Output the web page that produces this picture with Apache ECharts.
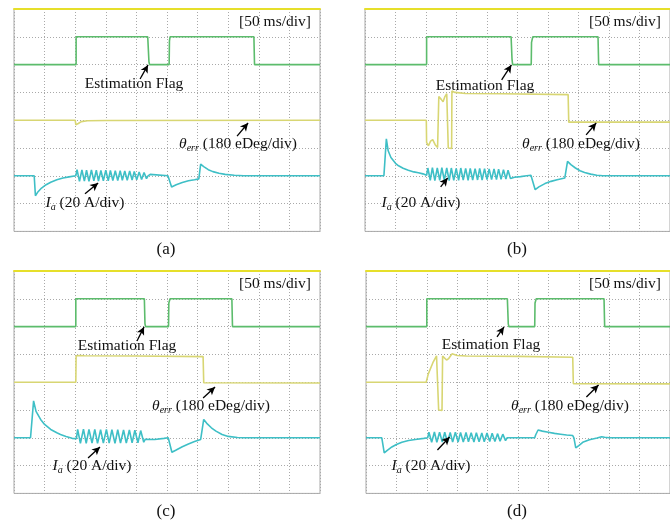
<!DOCTYPE html>
<html><head><meta charset="utf-8">
<script src="https://cdn.jsdelivr.net/npm/echarts@6/dist/echarts.min.js"></script>
<style>html,body{margin:0;padding:0;background:#fff}#c{width:670px;height:525px}</style>
</head><body><div id="c"></div>
<script>
// ---- data (x and y in scope divisions) ----
const panelNames = ['(a)', '(b)', '(c)', '(d)'];
const timeBaseLabel = '[50 ms/div]';
const flagLabel = 'Estimation Flag';

const flagA = [[0,6],[2.03,6],[2.03,7],[4.37,7],[4.41,6.1],[4.43,6],[5.07,6],[5.08,6.85],[5.1,7],[7.84,7],[7.86,6],[10,6]];
const thetaA = [[0,4],[2.0,4],[2.02,3.84],[2.06,3.82],[2.1,3.88],[2.2,3.95],[2.4,3.98],[3,3.99],[10,4.0]];
const iaA = [[0,2],[0.66,2],[0.70,1.28],[0.78,1.42],[0.9,1.56],[1.05,1.68],[1.2,1.77],[1.4,1.86],[1.6,1.92],[1.8,1.96],[2.02,2.0],
 [2.06,2.22],[2.14,1.8],[2.22,2.21],[2.30,1.81],[2.37,2.2],[2.45,1.8],[2.53,2.21],[2.61,1.82],[2.69,2.2],[2.76,1.81],
 [2.84,2.19],[2.92,1.82],[3.00,2.2],[3.08,1.82],[3.15,2.19],[3.23,1.83],[3.31,2.18],[3.39,1.83],[3.47,2.18],[3.54,1.84],
 [3.62,2.17],[3.70,1.84],[3.78,2.17],[3.86,1.85],[3.93,2.16],[4.01,1.86],[4.09,2.14],[4.17,1.87],[4.25,2.12],[4.33,1.9],
 [4.38,2.0],[4.45,2.05],[4.5,2.0],[5.03,2.0],[5.15,1.6],[5.3,1.68],[5.5,1.76],[5.7,1.82],[5.9,1.86],[6.04,1.89],
 [6.1,2.42],[6.2,2.33],[6.35,2.22],[6.5,2.15],[6.7,2.09],[6.9,2.05],[7.2,2.02],[7.5,2.0],[10,2.0]];

const flagB = [[0,6],[2.02,6],[2.02,7],[4.79,7],[4.82,6.2],[4.84,6],[5.45,6],[5.46,6.8],[5.5,7],[7.64,7],[7.66,6],[10,6]];
const thetaB = [[0,4],[2.01,4],[2.02,3.2],[2.08,3.08],[2.15,3.25],[2.22,3.3],[2.3,3.12],[2.38,3.02],[2.41,3.05],[2.42,4.85],
 [2.5,4.75],[2.56,4.66],[2.62,4.85],[2.68,4.95],[2.72,4.95],[2.73,3.0],[2.84,2.98],[2.85,5.05],[2.95,5.0],[3.3,4.96],
 [4.5,4.95],[6.66,4.92],[6.68,3.93],[10,3.93]];
const iaB = [[0,2],[0.62,2],[0.70,3.33],[0.76,2.9],[0.85,2.66],[1.0,2.45],[1.1,2.36],[1.25,2.27],[1.42,2.2],[1.6,2.14],[1.75,2.11],[1.9,2.07],[2.02,2.02],
 [2.06,2.28],[2.14,1.84],[2.21,2.29],[2.29,1.83],[2.37,2.28],[2.45,1.84],[2.52,2.29],[2.60,1.84],[2.68,2.28],[2.76,1.83],
 [2.83,2.28],[2.91,1.84],[2.99,2.27],[3.07,1.84],[3.14,2.28],[3.22,1.85],[3.30,2.27],[3.38,1.84],[3.45,2.27],[3.53,1.85],
 [3.61,2.26],[3.69,1.85],[3.76,2.27],[3.84,1.85],[3.92,2.26],[4.00,1.86],[4.07,2.25],[4.15,1.86],[4.23,2.25],[4.31,1.86],
 [4.38,2.24],[4.46,1.87],[4.54,2.22],[4.62,1.88],[4.69,2.2],[4.77,1.9],[4.82,1.96],
 [4.9,1.95],[5.1,1.97],[5.3,2.0],[5.44,2.02],[5.47,1.98],[5.58,1.5],[5.7,1.6],[5.9,1.72],[6.1,1.8],[6.3,1.86],[6.55,1.92],
 [6.6,1.94],[6.64,2.52],[6.75,2.4],[6.9,2.28],[7.05,2.18],[7.2,2.12],[7.4,2.06],[7.6,2.02],[7.8,2.0],[10,2.0]];

const flagC = [[0,6],[2.02,6],[2.02,7],[4.26,7],[4.28,6.1],[4.3,6],[5.05,6],[5.06,6.85],[5.1,7],[7.12,7],[7.14,6],[10,6]];
const thetaC = [[0,4],[2.02,4],[2.03,4.95],[2.08,5.02],[2.15,4.96],[2.3,4.95],[4,4.94],[6.18,4.92],[6.2,3.98],[10,3.97]];
const iaC = [[0,2],[0.54,2],[0.64,3.33],[0.72,2.95],[0.87,2.66],[1.0,2.48],[1.2,2.3],[1.4,2.18],[1.52,2.12],[1.7,2.05],[1.9,1.98],[2.04,1.97],
 [2.08,2.3],[2.17,1.8],[2.27,2.31],[2.36,1.8],[2.45,2.3],[2.55,1.81],[2.64,2.3],[2.73,1.8],[2.83,2.29],[2.92,1.81],
 [3.02,2.3],[3.11,1.81],[3.20,2.29],[3.30,1.8],[3.39,2.29],[3.48,1.81],[3.58,2.28],[3.67,1.81],[3.77,2.28],[3.86,1.82],
 [3.95,2.27],[4.05,1.82],[4.14,2.26],[4.24,1.84],[4.29,1.95],
 [4.35,1.92],[4.6,1.94],[4.9,1.98],[5.04,2.0],[5.07,1.98],[5.16,1.48],[5.3,1.56],[5.5,1.68],[5.7,1.78],[5.9,1.87],[6.1,1.94],
 [6.14,1.96],[6.2,2.66],[6.3,2.52],[6.45,2.36],[6.6,2.24],[6.8,2.12],[7.0,2.05],[7.3,2.01],[7.5,2.0],[10,2.0]];

const flagD = [[0,6],[2.0,6],[2.0,7],[4.65,7],[4.68,6.1],[4.7,6],[5.55,6],[5.56,6.85],[5.6,7],[7.83,7],[7.85,6],[10,6]];
const thetaD = [[0,4],[1.98,4],[2.05,4.3],[2.2,4.7],[2.32,4.95],[2.37,4.9],[2.39,3.0],[2.5,2.98],[2.52,4.94],[2.58,4.88],
 [2.65,4.8],[2.72,4.85],[2.83,5.02],[3.0,4.96],[3.3,4.94],[5,4.93],[6.8,4.9],[6.82,3.95],[10,3.94]];
const iaD = [[0,2],[0.52,2],[0.6,1.46],[0.7,1.55],[0.85,1.67],[1.0,1.76],[1.18,1.84],[1.4,1.9],[1.62,1.94],[1.9,1.98],[2.03,2.0],
 [2.07,2.2],[2.16,1.84],[2.25,2.21],[2.33,1.84],[2.42,2.2],[2.51,1.85],[2.59,2.2],[2.68,1.84],[2.77,2.19],[2.85,1.85],
 [2.94,2.2],[3.03,1.85],[3.11,2.19],[3.20,1.85],[3.29,2.19],[3.37,1.86],[3.46,2.18],[3.55,1.85],[3.63,2.18],[3.72,1.86],
 [3.81,2.17],[3.89,1.86],[3.98,2.17],[4.07,1.87],[4.15,2.16],[4.24,1.87],[4.33,2.15],[4.41,1.88],[4.50,2.13],[4.59,1.9],[4.64,2.0],
 [5.55,2.0],[5.58,2.1],[5.66,2.28],[5.8,2.24],[6.0,2.2],[6.2,2.16],[6.4,2.13],[6.6,2.1],[6.8,2.08],[6.84,2.0],[6.9,1.64],
 [7.0,1.72],[7.15,1.85],[7.35,1.93],[7.6,1.99],[7.75,2.04],[7.85,2.02],[8.0,2.0],[10,2.0]];

// annotation arrows: [tail, head] in divisions
const flagArrows = [[[4.12,5.48],[4.38,5.99]], [[4.48,5.45],[4.80,5.99]], [[4.02,5.48],[4.25,5.99]], [[4.31,5.63],[4.54,5.99]]];
const thetaArrows = [[[7.29,3.43],[7.65,3.90]], [[7.25,3.47],[7.58,3.90]], [[6.18,3.43],[6.57,3.83]], [[7.25,3.47],[7.65,3.90]]];
const iaArrows = [[[2.32,1.35],[2.75,1.74]], [[2.48,1.60],[2.71,1.92]], [[2.42,1.27],[2.81,1.67]], [[2.35,1.56],[2.75,2.03]]];

const flags = [flagA, flagB, flagC, flagD];
const thetas = [thetaA, thetaB, thetaC, thetaD];
const ias = [iaA, iaB, iaC, iaD];

// ---- layout / style ----
const gridBoxes = [
  {left:14, top:9, width:306, height:222.4},
  {left:365, top:9, width:305, height:222.4},
  {left:14, top:271, width:306, height:222.4},
  {left:366, top:271, width:304, height:222.4}
];
// pixel centers of text labels for each panel
const textPos = [
  {ms:[275,22], flag:[134,84], th:[238,144], ia:[85,203], cap:[166,250]},
  {ms:[625,22], flag:[485,86], th:[581,144], ia:[421,203], cap:[517,250]},
  {ms:[275,284], flag:[127,346], th:[211,406], ia:[92,466], cap:[166,512]},
  {ms:[625,284], flag:[491,345], th:[570,406], ia:[431,466], cap:[517,512]}
];
const FONT = '"Liberation Serif","Times New Roman",serif';
const C_FLAG = '#5cbc6c', C_THETA = '#d8d673', C_IA = '#3ebfc6', C_TOP = '#e6df2a';

const grid = [], xAxis = [], yAxis = [], series = [], graphic = [];
gridBoxes.forEach((g, i) => {
  grid.push(Object.assign({show:true, borderColor:'#a8a8a8', borderWidth:1, backgroundColor:'#fff'}, g));
  xAxis.push({type:'value', gridIndex:i, min:0, max:10, interval:1, position:'top',
    axisLine:{show:true, onZero:false, lineStyle:{color:C_TOP, width:2}},
    axisTick:{show:false}, axisLabel:{show:false},
    splitLine:{show:true, lineStyle:{color:'#a9a9a9', type:[1,2], width:1}}});
  yAxis.push({type:'value', gridIndex:i, min:0, max:8, interval:1,
    axisLine:{show:false}, axisTick:{show:false}, axisLabel:{show:false},
    splitLine:{show:true, lineStyle:{color:'#a9a9a9', type:[1,2], width:1}}});
  const arrow = (seg) => ({silent:true, symbol:['none','arrow'], symbolSize:[6,8], animation:false,
    label:{show:false}, lineStyle:{color:'#000', width:1.3, type:'solid'},
    data:[[{coord:seg[0]},{coord:seg[1]}]]});
  series.push({type:'line', xAxisIndex:i, yAxisIndex:i, data:flags[i], showSymbol:false, animation:false,
    lineStyle:{color:C_FLAG, width:1.6}, markLine:arrow(flagArrows[i])});
  series.push({type:'line', xAxisIndex:i, yAxisIndex:i, data:thetas[i], showSymbol:false, animation:false,
    lineStyle:{color:C_THETA, width:1.6}, markLine:arrow(thetaArrows[i])});
  series.push({type:'line', xAxisIndex:i, yAxisIndex:i, data:ias[i], showSymbol:false, animation:false,
    lineStyle:{color:C_IA, width:1.6}, markLine:arrow(iaArrows[i])});

  const p = textPos[i];
  const base = {fontFamily:FONT, fontSize:15.5, fill:'#111', align:'center', verticalAlign:'middle'};
  graphic.push({type:'text', x:p.ms[0], y:p.ms[1], z:100, style:Object.assign({}, base, {text:timeBaseLabel})});
  graphic.push({type:'text', x:p.flag[0], y:p.flag[1], z:100, style:Object.assign({}, base, {text:flagLabel})});
  graphic.push({type:'text', x:p.th[0], y:p.th[1], z:100, style:Object.assign({}, base, {
    text:'{t|θ}{s|err}{n| (180 eDeg/div)}',
    rich:{t:{fontFamily:FONT, fontSize:15.5, fontStyle:'italic', lineHeight:19, verticalAlign:'middle'},
          s:{fontFamily:FONT, fontSize:10, fontStyle:'italic', lineHeight:10, verticalAlign:'bottom'},
          n:{fontFamily:FONT, fontSize:15.5, lineHeight:19, verticalAlign:'middle'}}})});
  graphic.push({type:'text', x:p.ia[0], y:p.ia[1], z:100, style:Object.assign({}, base, {
    text:'{t|I}{s|a}{n| (20 A/div)}',
    rich:{t:{fontFamily:FONT, fontSize:15.5, fontStyle:'italic', lineHeight:19, verticalAlign:'middle'},
          s:{fontFamily:FONT, fontSize:10, fontStyle:'italic', lineHeight:10, verticalAlign:'bottom'},
          n:{fontFamily:FONT, fontSize:15.5, lineHeight:19, verticalAlign:'middle'}}})});
  graphic.push({type:'text', x:p.cap[0], y:p.cap[1], z:100, style:Object.assign({}, base, {text:panelNames[i], fontSize:17})});
});

const chart = echarts.init(document.getElementById('c'), null, {renderer:'canvas'});
chart.setOption({backgroundColor:'#fff', animation:false, grid, xAxis, yAxis, series, graphic});
</script></body></html>
